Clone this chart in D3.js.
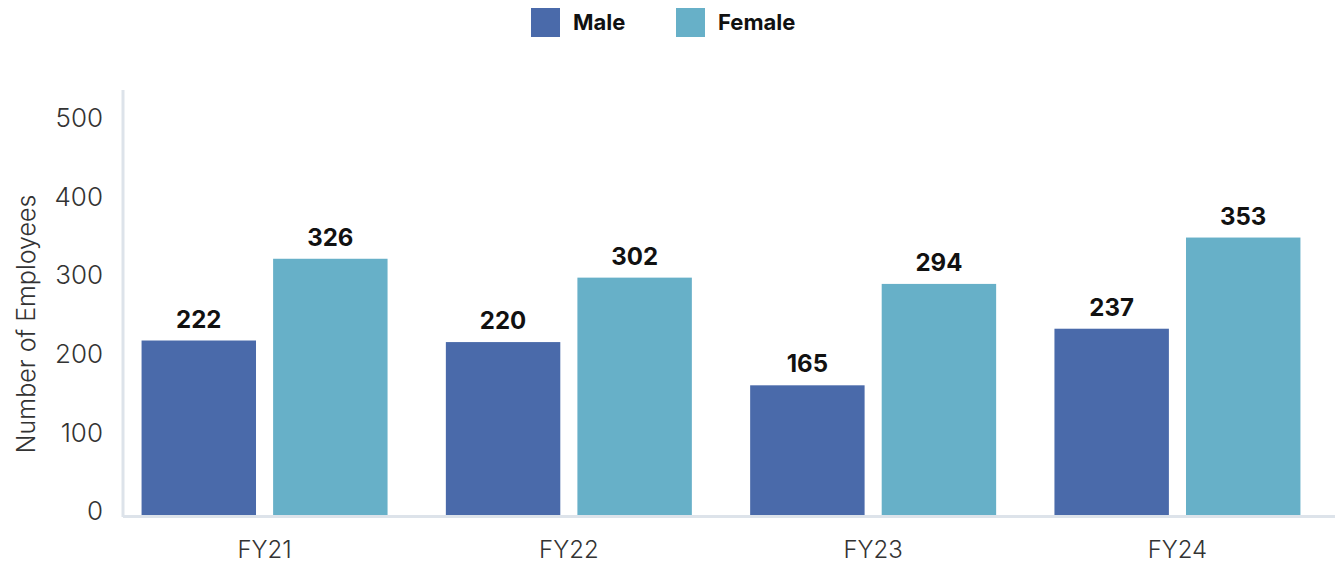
<!DOCTYPE html>
<html>
<head>
<meta charset="utf-8">
<script src="https://cdn.jsdelivr.net/npm/d3@7"></script>
<style>
  body { margin: 0; background: #fff; }
  svg { display: block; font-family: Inter, "Noto Sans", sans-serif; }
</style>
</head>
<body>
<svg></svg>
<script>
var WIDTH = 1335;
var HEIGHT = 566;

var years = ['FY21', 'FY22', 'FY23', 'FY24'];
var series = ['Male', 'Female'];
var maleValues = [222, 220, 165, 237];
var femaleValues = [326, 302, 294, 353];
var yTicks = [0, 100, 200, 300, 400, 500];
var colors = ['#4a6aaa', '#67b0c8'];

var svg = d3.select('svg')
  .attr('width', WIDTH)
  .attr('height', HEIGHT);

var margin = {left: 123, right: 16, top: 90, bottom: 51};

var xScale = d3.scaleBand()
  .domain(years)
  .range([margin.left, WIDTH - margin.right])
  .paddingInner(0.1916)
  .paddingOuter(0.061);

var xSub = d3.scaleBand()
  .domain(series)
  .range([0, xScale.bandwidth()])
  .paddingInner(0.13);

var yScale = d3.scaleLinear()
  .domain([0, 500])
  .range([HEIGHT - margin.bottom, 122]);

var rows = years.map(function(y, i) {
  return {year: y, values: [maleValues[i], femaleValues[i]]};
});

// axis lines
svg.append('line')
  .attr('x1', margin.left).attr('x2', margin.left)
  .attr('y1', margin.top).attr('y2', yScale(0) + 2)
  .attr('stroke', '#dde3ea').attr('stroke-width', 3);
svg.append('line')
  .attr('x1', margin.left).attr('x2', WIDTH)
  .attr('y1', yScale(0) + 1.5).attr('y2', yScale(0) + 1.5)
  .attr('stroke', '#dde3ea').attr('stroke-width', 3);

// y tick labels
svg.selectAll('.ytick')
  .data(yTicks)
  .enter()
  .append('text')
  .attr('class', 'ytick')
  .attr('x', 103)
  .attr('y', function(d) { return yScale(d) - 4; })
  .attr('dy', '0.35em')
  .attr('text-anchor', 'end')
  .attr('font-size', 26)
  .attr('font-weight', 300)
  .attr('fill', '#333')
  .text(function(d) { return d; });

// y title
svg.append('text')
  .attr('transform', 'translate(35,324) rotate(-90)')
  .attr('text-anchor', 'middle')
  .attr('font-size', 25)
  .attr('font-weight', 300)
  .attr('fill', '#333')
  .text('Number of Employees');

// x labels
svg.selectAll('.xlab')
  .data(years)
  .enter()
  .append('text')
  .attr('class', 'xlab')
  .attr('x', function(d) { return xScale(d) + xScale.bandwidth() / 2; })
  .attr('y', 558)
  .attr('text-anchor', 'middle')
  .attr('font-size', 24)
  .attr('font-weight', 300)
  .attr('fill', '#333')
  .text(function(d) { return d; });

// bars
var groups = svg.selectAll('.grp')
  .data(rows)
  .enter()
  .append('g')
  .attr('class', 'grp')
  .attr('transform', function(d) { return 'translate(' + xScale(d.year) + ',0)'; });

groups.selectAll('rect')
  .data(function(d) { return d.values; })
  .enter()
  .append('rect')
  .attr('x', function(d, i) { return xSub(series[i]); })
  .attr('width', xSub.bandwidth())
  .attr('y', function(d) { return yScale(d); })
  .attr('height', function(d) { return yScale(0) - yScale(d); })
  .attr('fill', function(d, i) { return colors[i]; });

groups.selectAll('.val')
  .data(function(d) { return d.values; })
  .enter()
  .append('text')
  .attr('class', 'val')
  .attr('x', function(d, i) { return xSub(series[i]) + xSub.bandwidth() / 2; })
  .attr('y', function(d) { return yScale(d) - 13; })
  .attr('text-anchor', 'middle')
  .attr('font-size', 24)
  .attr('font-weight', 700)
  .attr('fill', '#111')
  .text(function(d) { return d; });

// legend
var legendX = [531, 676];
var legend = svg.selectAll('.leg')
  .data(series)
  .enter()
  .append('g')
  .attr('class', 'leg')
  .attr('transform', function(d, i) { return 'translate(' + legendX[i] + ',8)'; });
legend.append('rect')
  .attr('width', 29).attr('height', 29)
  .attr('fill', function(d, i) { return colors[i]; });
legend.append('text')
  .attr('x', 42).attr('y', 22)
  .attr('font-size', 22)
  .attr('font-weight', 700)
  .attr('fill', '#111')
  .text(function(d) { return d; });
</script>
</body>
</html>
